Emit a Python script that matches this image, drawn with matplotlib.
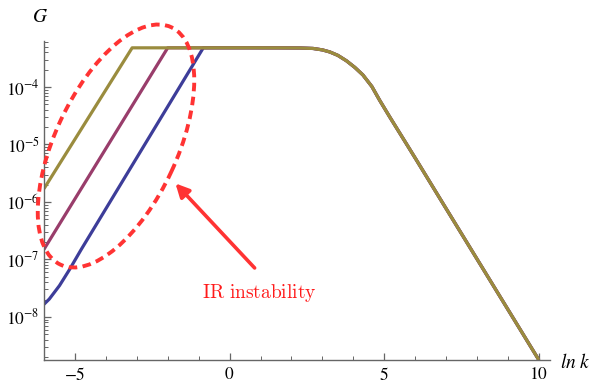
import matplotlib
matplotlib.use("Agg")
import matplotlib.pyplot as plt
from matplotlib.patches import Ellipse
from matplotlib.ticker import FixedLocator, LogLocator, NullFormatter, FixedFormatter
import matplotlib.transforms as mtransforms

plt.rcParams['mathtext.fontset'] = 'stix'
plt.rcParams['font.family'] = ['Liberation Serif', 'DejaVu Serif']

# rising (IR) branches
blue_lnk = [-6.0, -5.83, -5.5, -5.18, -4.8, -0.85]
blue_G = [1.66e-8, 2.04e-8, 3.5e-8, 6.6e-8, 1.48e-7, 4.8e-4]
purple_lnk = [-6.0, -2.0]
purple_G = [1.5e-7, 4.8e-4]
olive_lnk = [-6.0, -3.15]
olive_G = [1.7e-6, 4.8e-4]

# shared plateau and UV tail
tail_lnk = [0.65, 1.62, 2.27, 2.70, 3.0, 3.24, 3.5, 3.78, 4.05, 4.31, 4.6,
            4.85, 5.18, 5.72, 6.04, 6.80, 10.0]
tail_G = [4.8e-4, 4.79e-4, 4.77e-4, 4.68e-4, 4.42e-4, 4.07e-4, 3.55e-4,
          2.85e-4, 2.19e-4, 1.62e-4, 1.02e-4, 5.9e-5, 3.0e-5, 1.02e-5,
          5.37e-6, 1.15e-6, 1.78e-9]

xticks = [-5, 0, 5, 10]
xtick_labels = ['$-5$', '$0$', '$5$', '$10$']
yticks = [1e-8, 1e-7, 1e-6, 1e-5, 1e-4]
ytick_labels = ['$10^{-8}$', '$10^{-7}$', '$10^{-6}$', '$10^{-5}$', '$10^{-4}$']

c_blue = '#3d3d99'
c_purple = '#993d6b'
c_olive = '#9a8c3e'

fig = plt.figure(figsize=(5.92, 3.9), dpi=100)
ax = fig.add_axes([44/592, 30/390, (550-44)/592, (360-41)/390])

for lnk, G, c in [(blue_lnk, blue_G, c_blue), (purple_lnk, purple_G, c_purple),
                  (olive_lnk, olive_G, c_olive)]:
    ax.plot(list(lnk) + tail_lnk, list(G) + tail_G, color=c, lw=2.3,
            solid_capstyle='butt', solid_joinstyle='round')

ax.set_yscale('log')
ax.set_xlim(-6, 10.36)
ax.set_ylim(10**-8.75, 10**-3.2)

for s in ['top', 'right']:
    ax.spines[s].set_visible(False)
for s in ['left', 'bottom']:
    ax.spines[s].set_color('#666666')
    ax.spines[s].set_linewidth(1.0)

ax.xaxis.set_major_locator(FixedLocator(xticks))
ax.xaxis.set_major_formatter(FixedFormatter(xtick_labels))
ax.xaxis.set_minor_locator(FixedLocator(list(range(-6, 11))))
ax.yaxis.set_major_locator(FixedLocator(yticks))
ax.yaxis.set_major_formatter(FixedFormatter(ytick_labels))
ax.yaxis.set_minor_locator(LogLocator(base=10, subs=range(2, 10), numticks=20))
ax.yaxis.set_minor_formatter(NullFormatter())
ax.tick_params(which='both', direction='in', color='#666666', labelsize=12.5)
ax.tick_params(which='major', length=5, width=0.9)
ax.tick_params(which='minor', length=3, width=0.7)
ax.tick_params(axis='x', pad=5)
ax.tick_params(axis='y', pad=3)

fig.text(40/592, 1 - 17/390, '$G$', fontsize=14, ha='center', va='center')
fig.text(575/592, 1 - 362/390, r'$ln\ k$', fontsize=14, ha='center', va='center')

red = '#ff3333'
ell = Ellipse((116, 390 - 146), width=262, height=122, angle=65,
              transform=mtransforms.IdentityTransform(), fill=False,
              edgecolor=red, lw=2.8, linestyle=(0, (2.2, 1.4)), clip_on=False)
fig.add_artist(ell)

ax.annotate('', xy=(-1.75, 2.1e-6), xytext=(0.81, 7.1e-8),
            arrowprops=dict(arrowstyle='-|>', color=red, lw=2.6, mutation_scale=20,
                            shrinkA=0, shrinkB=0))
ax.text(0.97, 2.14e-8, r'$\mathrm{IR\ instability}$', color='#ff1a1a', fontsize=14,
        ha='center', va='baseline', math_fontfamily='cm')

fig.savefig('out.png', dpi=100)
